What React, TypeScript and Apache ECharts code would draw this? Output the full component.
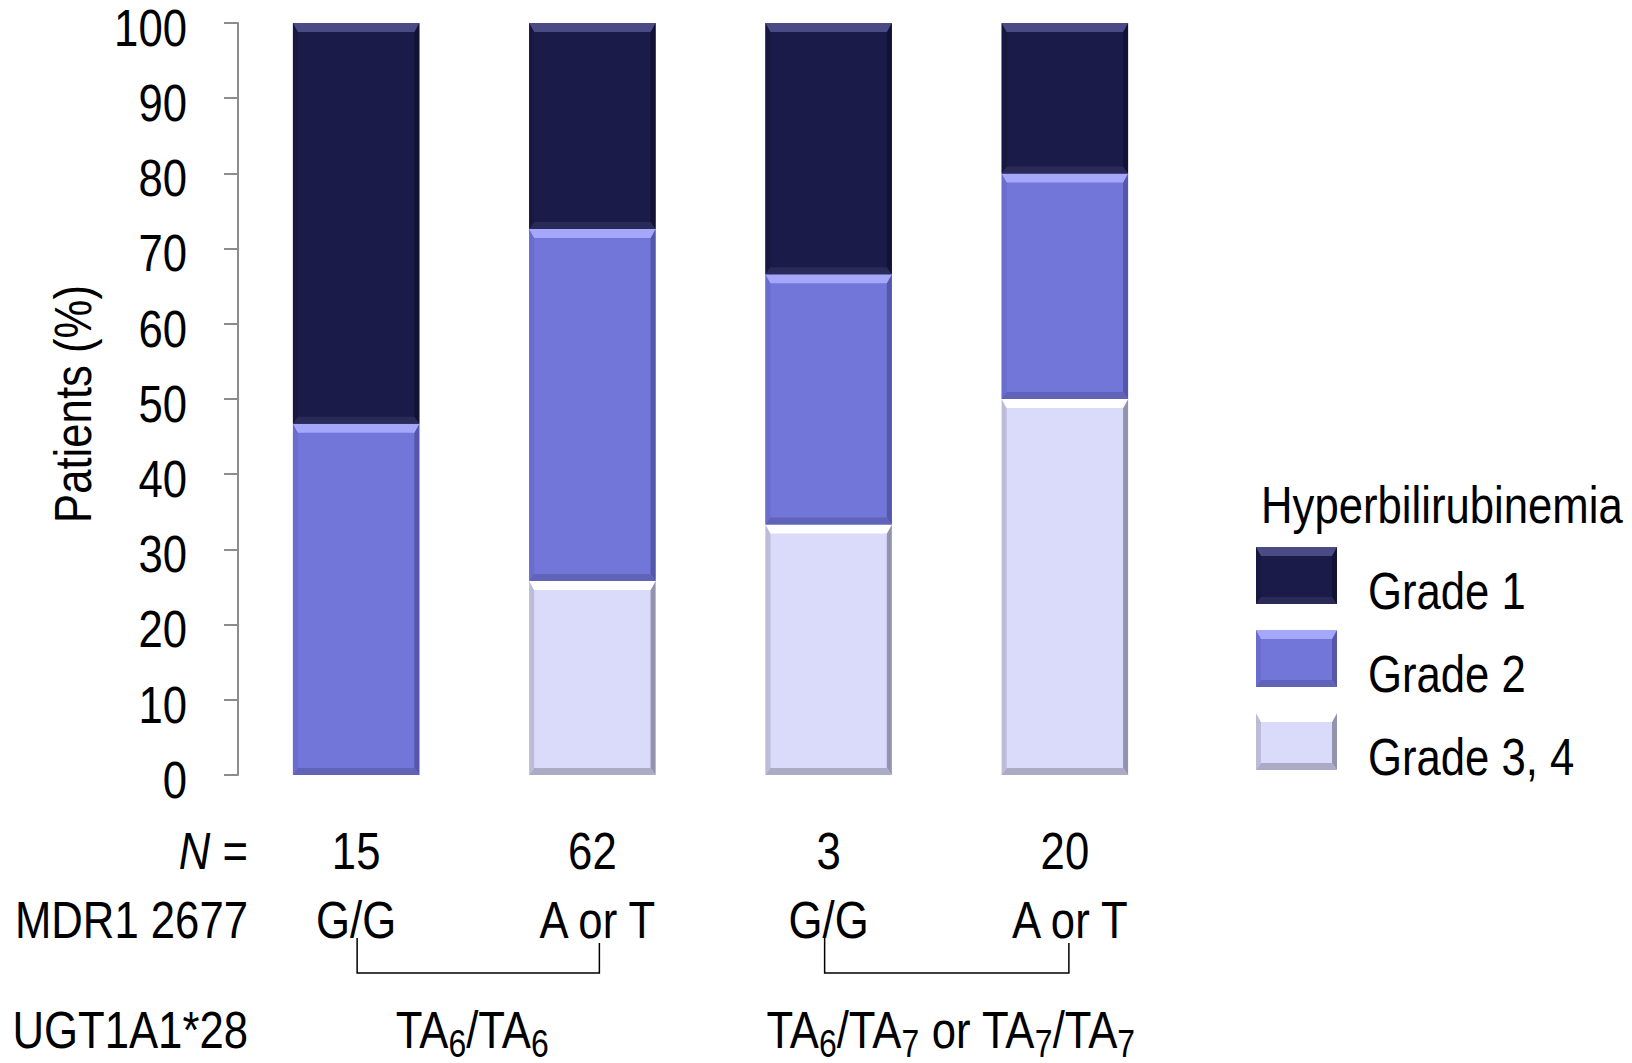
import React, { useEffect, useRef } from "react";
import * as echarts from "echarts";

// Patients per MDR1 2677 / UGT1A1*28 genotype group
const sampleSizes = ["15", "62", "3", "20"];
const mdr1Genotypes = ["G/G", "A or T", "G/G", "A or T"];

// Share of patients (%) by hyperbilirubinemia grade
const grade34 = [0, 25.8, 33.3, 50];
const grade2 = [46.7, 46.8, 33.3, 30];
const grade1 = [53.3, 27.4, 33.4, 20];

const yTicks = [0, 10, 20, 30, 40, 50, 60, 70, 80, 90, 100];

const gradeNames = ["Grade 3, 4", "Grade 2", "Grade 1"];
const legendTitle = "Hyperbilirubinemia";

const FONT = "'Liberation Sans', Arial, sans-serif";
const FS = 52;
const NARROW = 0.84; // horizontal squeeze for a condensed look

type Palette = { fill: string; top: string; left: string; right: string; bottom: string };

const palettes: Record<string, Palette> = {
  "Grade 1": { fill: "#1b1b4a", top: "#4a4a84", left: "#17173f", right: "#121234", bottom: "#2a2a58" },
  "Grade 2": { fill: "#7376d9", top: "#a5a8fa", left: "#6a6dce", right: "#5557a8", bottom: "#6063b8" },
  "Grade 3, 4": { fill: "#dadafa", top: "#ffffff", left: "#bcbcd8", right: "#9393ae", bottom: "#ababc6" },
};

// Bevelled rectangle: flat face plus four edge facets
function bevel(x: number, y: number, w: number, h: number, pal: Palette) {
  const t = Math.min(9, h / 2);
  const b = Math.min(7, h / 2);
  const l = 5;
  const r = 5;
  return [
    { type: "rect", shape: { x, y, width: w, height: h }, style: { fill: pal.fill } },
    { type: "polygon", shape: { points: [[x, y], [x + l, y + t], [x + l, y + h - b], [x, y + h]] }, style: { fill: pal.left } },
    { type: "polygon", shape: { points: [[x + w, y], [x + w, y + h], [x + w - r, y + h - b], [x + w - r, y + t]] }, style: { fill: pal.right } },
    { type: "polygon", shape: { points: [[x, y + h], [x + l, y + h - b], [x + w - r, y + h - b], [x + w, y + h]] }, style: { fill: pal.bottom } },
    { type: "polygon", shape: { points: [[x, y], [x + w, y], [x + w - r, y + t], [x + l, y + t]] }, style: { fill: pal.top } },
  ];
}

function stackedData(layers: number[][], idx: number) {
  return layers[idx].map((v, i) => {
    let base = 0;
    for (let k = 0; k < idx; k++) base += layers[k][i];
    return [i, base, base + v];
  });
}

const richStyles = {
  s: { fontFamily: FONT, fontSize: 38, lineHeight: 30, verticalAlign: "bottom", fill: "#000" },
  i: { fontFamily: FONT, fontSize: FS, fontStyle: "italic", fill: "#000" },
};

function label(text: string, x: number, y: number, align: string, extra: any = {}) {
  return {
    type: "text",
    x,
    y,
    scaleX: NARROW,
    rotation: extra.rotation || 0,
    style: {
      text,
      fontFamily: FONT,
      fontSize: FS,
      fill: "#000",
      align,
      verticalAlign: "middle",
      lineHeight: extra.lineHeight,
      rich: richStyles,
    },
  };
}

export default function App() {
  const ref = useRef<HTMLDivElement>(null);

  useEffect(() => {
    if (!ref.current) return;
    const chart = echarts.init(ref.current, null, { renderer: "svg" });
    const layers = [grade34, grade2, grade1];

    const series = gradeNames.map((name, idx) => ({
      type: "custom",
      name,
      data: stackedData(layers, idx),
      renderItem: (params: any, api: any) => {
        const cat = api.value(0);
        const lo = api.value(1);
        const hi = api.value(2);
        if (hi - lo <= 0) return null;
        const pTop = api.coord([cat, hi]);
        const pBot = api.coord([cat, lo]);
        const w = api.size([1, 0])[0] * 0.535;
        return {
          type: "group",
          children: bevel(pTop[0] - w / 2, pTop[1], w, pBot[1] - pTop[1], palettes[name]),
        };
      },
    }));

    chart.setOption({
      animation: false,
      backgroundColor: "#ffffff",
      grid: { left: 238, right: 449, top: 23, bottom: 288, containLabel: false },
      xAxis: {
        type: "category",
        data: sampleSizes,
        axisLine: { show: false },
        axisTick: { show: false },
        axisLabel: { show: false },
      },
      yAxis: {
        type: "value",
        min: yTicks[0],
        max: yTicks[yTicks.length - 1],
        interval: yTicks[1] - yTicks[0],
        splitLine: { show: false },
        axisLine: { show: true, lineStyle: { color: "#8c8c8c", width: 2 } },
        axisTick: { show: true, length: 14, lineStyle: { color: "#8c8c8c", width: 2 } },
        axisLabel: { show: false },
      },
      series,
    });

    // Axis labels placed from the chart's own scales
    const labelsY = yTicks.map((v) =>
      label(String(v), 187, (chart.convertToPixel({ yAxisIndex: 0 }, v) as number) + 5, "right")
    );
    const catX = sampleSizes.map((_, i) => chart.convertToPixel({ xAxisIndex: 0 }, i) as number);
    const labelsN = sampleSizes.map((n, i) => label(n, catX[i], 851, "center"));
    const labelsG = mdr1Genotypes.map((g, i) =>
      label(g, catX[i] + (g === "G/G" ? 0 : 5), 920, "center")
    );

    // Legend swatches
    const legendRows = ["Grade 1", "Grade 2", "Grade 3, 4"];
    const legendItems: any[] = [];
    legendRows.forEach((name, i) => {
      const y = 547 + i * 83;
      legendItems.push({ type: "group", children: bevel(1256, y, 81, 57, palettes[name]) });
      legendItems.push(label(name, 1368, y + 44, "left"));
    });

    const mid12 = (catX[0] + catX[1]) / 2;
    const mid34 = (catX[2] + catX[3]) / 2;

    chart.setOption({
      graphic: [
        label("Patients (%)", 73, 404, "center", { rotation: Math.PI / 2 }),
        ...labelsY,
        ...labelsN,
        ...labelsG,
        label("{i|N} =", 248, 851, "right"),
        label("MDR1 2677", 248, 920, "right"),
        label("UGT1A1*28", 248, 1030, "right"),
        label("TA{s|6}/TA{s|6}", mid12 - 2, 1030, "center", { lineHeight: 64 }),
        label("TA{s|6}/TA{s|7} or TA{s|7}/TA{s|7}", mid34 + 4, 1030, "center", { lineHeight: 64 }),
        {
          type: "polyline",
          shape: { points: [[catX[0] + 1, 938], [catX[0] + 1, 973], [catX[1] + 7, 973], [catX[1] + 7, 943]] },
          style: { stroke: "#000", lineWidth: 1.5, fill: "none" },
        },
        {
          type: "polyline",
          shape: { points: [[catX[2] - 4, 938], [catX[2] - 4, 973], [catX[3] + 4, 973], [catX[3] + 4, 943]] },
          style: { stroke: "#000", lineWidth: 1.5, fill: "none" },
        },
        label(legendTitle, 1261, 505, "left"),
        ...legendItems,
      ],
    });

    return () => chart.dispose();
  }, []);

  return (
    <div
      ref={ref}
      style={{ position: "fixed", left: 0, top: 0, width: 1632, height: 1063 }}
    />
  );
}
